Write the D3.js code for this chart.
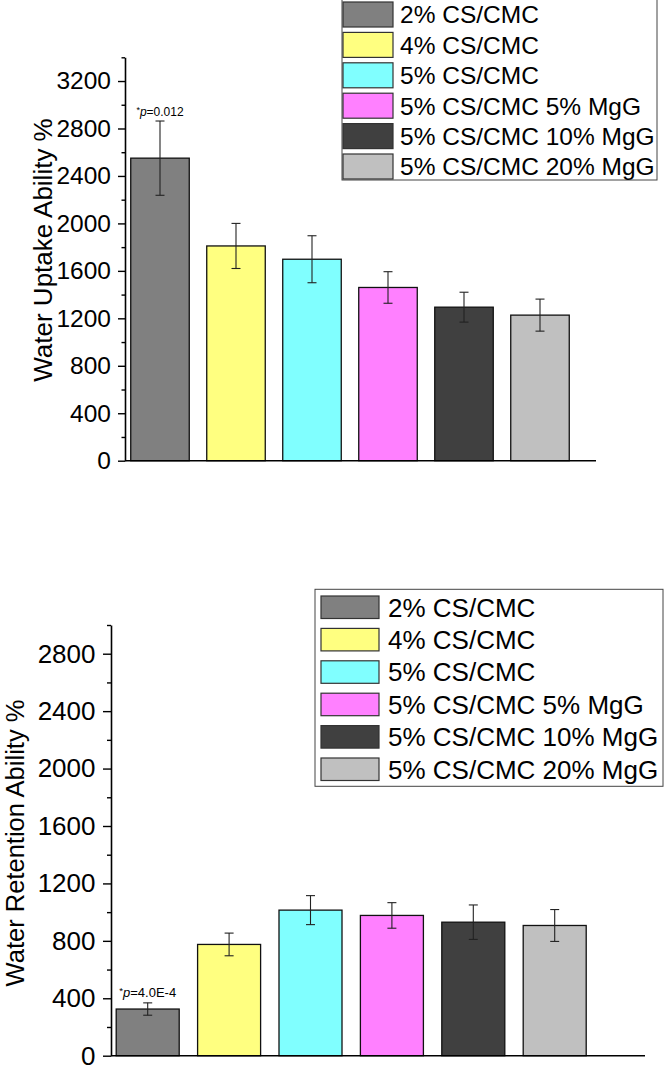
<!DOCTYPE html>
<html>
<head>
<meta charset="utf-8">
<script src="https://cdn.jsdelivr.net/npm/d3@7"></script>
<style>
  html, body { margin: 0; padding: 0; background: #fff; }
  svg { display: block; font-family: Arial, "Liberation Sans", Helvetica, sans-serif; }
</style>
</head>
<body>
<svg id="chart" width="669" height="1072"></svg>
<script>
// ---- data ----
const categories = ["2% CS/CMC", "4% CS/CMC", "5% CS/CMC", "5% CS/CMC 5% MgG", "5% CS/CMC 10% MgG", "5% CS/CMC 20% MgG"];
const barColors = ["#808080", "#ffff80", "#80ffff", "#ff80ff", "#404040", "#c0c0c0"];
const uptakeValues = [2550, 1810, 1698, 1460, 1294, 1227];
const uptakeErrors = [313, 190, 198, 133, 126, 135];
const retentionValues = [325, 775, 1014, 977, 930, 907];
const retentionErrors = [43, 79, 101, 89, 120, 111];
const uptakeTicks = [0, 400, 800, 1200, 1600, 2000, 2400, 2800, 3200];
const retentionTicks = [0, 400, 800, 1200, 1600, 2000, 2400, 2800];
const uptakeLabel = "Water Uptake Ability %";
const retentionLabel = "Water Retention Ability %";
const uptakeNote = { star: "*", p: "p", rest: "=0.012" };
const retentionNote = { star: "*", p: "p", rest: "=4.0E-4" };

const svg = d3.select("#chart");

function drawPanel(cfg) {
  const g = svg.append("g");
  const y = d3.scaleLinear().domain([0, cfg.yMax]).range([cfg.y0, cfg.yTop]);
  const x = d3.scaleBand().domain(categories).range(cfg.xRange)
    .paddingInner(cfg.padIn).paddingOuter(cfg.padIn / 2);

  // bars
  g.selectAll("rect.bar").data(cfg.values).join("rect")
    .attr("class", "bar")
    .attr("x", (d, i) => x(categories[i]))
    .attr("width", x.bandwidth())
    .attr("y", d => y(d))
    .attr("height", d => y(0) - y(d))
    .attr("fill", (d, i) => barColors[i])
    .attr("stroke", "#111")
    .attr("stroke-width", 1.3);

  // error bars
  const eb = g.selectAll("g.err").data(cfg.values).join("g").attr("class", "err")
    .attr("stroke", "#222").attr("stroke-width", 1.1);
  eb.append("line")
    .attr("x1", (d, i) => x(categories[i]) + x.bandwidth() / 2)
    .attr("x2", (d, i) => x(categories[i]) + x.bandwidth() / 2)
    .attr("y1", (d, i) => y(d + cfg.errors[i]))
    .attr("y2", (d, i) => y(d - cfg.errors[i]));
  [1, -1].forEach(s => {
    eb.append("line")
      .attr("x1", (d, i) => x(categories[i]) + x.bandwidth() / 2 - 4.5)
      .attr("x2", (d, i) => x(categories[i]) + x.bandwidth() / 2 + 4.5)
      .attr("y1", (d, i) => y(d + s * cfg.errors[i]))
      .attr("y2", (d, i) => y(d + s * cfg.errors[i]));
  });

  // x axis line
  g.append("line")
    .attr("x1", cfg.axisX).attr("x2", cfg.xEnd)
    .attr("y1", y(0)).attr("y2", y(0))
    .attr("stroke", "#000").attr("stroke-width", 1.6);

  // y axis: minor ticks
  const minor = d3.range(200, cfg.yMax + 1, 400);
  const minorAxis = d3.axisLeft(y).tickValues(minor).tickSize(cfg.minorLen).tickFormat("");
  g.append("g").attr("transform", `translate(${cfg.axisX},0)`).call(minorAxis)
    .call(a => a.select(".domain").remove())
    .selectAll("line").attr("stroke", "#000").attr("stroke-width", 1.4);

  // y axis: major ticks + labels
  const yAxis = d3.axisLeft(y).tickValues(cfg.ticks).tickSize(cfg.majorLen).tickPadding(cfg.tickPad)
    .tickSizeOuter(0).tickFormat(d3.format("d"));
  const ya = g.append("g").attr("transform", `translate(${cfg.axisX},0)`).call(yAxis);
  ya.select(".domain").attr("stroke", "#000").attr("stroke-width", 1.6);
  ya.selectAll(".tick line").attr("stroke", "#000").attr("stroke-width", 1.4);
  ya.selectAll(".tick text").attr("font-size", cfg.tickFont).attr("fill", "#000")
    .attr("font-family", "Arial, 'Liberation Sans', sans-serif");

  // y label
  g.append("text")
    .attr("transform", `translate(${cfg.labelX},${cfg.labelY}) rotate(-90)`)
    .attr("text-anchor", "middle")
    .attr("font-size", cfg.labelFont)
    .attr("fill", "#000")
    .text(cfg.label);

  // annotation over first bar
  const cx = x(categories[0]) + x.bandwidth() / 2;
  const t = g.append("text")
    .attr("x", cx).attr("y", y(cfg.values[0] + cfg.errors[0]) - cfg.noteGap)
    .attr("text-anchor", "middle").attr("font-size", cfg.noteFont).attr("fill", "#000");
  t.append("tspan").attr("font-size", cfg.noteFont * 0.75).attr("dy", -3).text(cfg.note.star);
  t.append("tspan").attr("font-style", "italic").attr("dy", 3).text(cfg.note.p);
  t.append("tspan").text(cfg.note.rest);

  // legend
  const lg = g.append("g");
  lg.append("rect")
    .attr("x", cfg.leg.x).attr("y", cfg.leg.y)
    .attr("width", cfg.leg.w).attr("height", cfg.leg.h)
    .attr("fill", "#fff").attr("stroke", "#444").attr("stroke-width", 1);
  const rows = lg.selectAll("g.row").data(categories).join("g").attr("class", "row")
    .attr("transform", (d, i) => `translate(0,${cfg.leg.rowY0 + i * cfg.leg.pitch})`);
  rows.append("rect")
    .attr("x", cfg.leg.swX).attr("y", 0)
    .attr("width", cfg.leg.swW).attr("height", cfg.leg.swH)
    .attr("fill", (d, i) => barColors[i])
    .attr("stroke", "#333").attr("stroke-width", 1.2);
  rows.append("text")
    .attr("x", cfg.leg.textX)
    .attr("y", cfg.leg.swH / 2 + cfg.leg.font * 0.36)
    .attr("font-size", cfg.leg.font).attr("fill", "#000")
    .text(d => d);
}

drawPanel({
  values: uptakeValues, errors: uptakeErrors, ticks: uptakeTicks, yMax: 3400,
  y0: 460.7, yTop: 57.3, axisX: 125, xEnd: 596, xRange: [122, 578], padIn: 0.23,
  majorLen: 7, minorLen: 3.5, tickPad: 7, tickFont: 24.5,
  label: uptakeLabel, labelX: 52, labelY: 250, labelFont: 26,
  note: uptakeNote, noteFont: 12, noteGap: 5,
  leg: { x: 342, y: -2, w: 315, h: 182, rowY0: 2, pitch: 30.4, swX: 343, swW: 50, swH: 25, textX: 400, font: 24.5 }
});

drawPanel({
  values: retentionValues, errors: retentionErrors, ticks: retentionTicks, yMax: 3000,
  y0: 1055.7, yTop: 625, axisX: 111, xEnd: 645, xRange: [107, 595.4], padIn: 0.226,
  majorLen: 8, minorLen: 4, tickPad: 7.5, tickFont: 26,
  label: retentionLabel, labelX: 23.5, labelY: 843, labelFont: 25.5,
  note: retentionNote, noteFont: 13, noteGap: 6,
  leg: { x: 315, y: 589.3, w: 348, h: 197, rowY0: 596, pitch: 32.4, swX: 321, swW: 58, swH: 22.5, textX: 388, font: 26 }
});
</script>
</body>
</html>
